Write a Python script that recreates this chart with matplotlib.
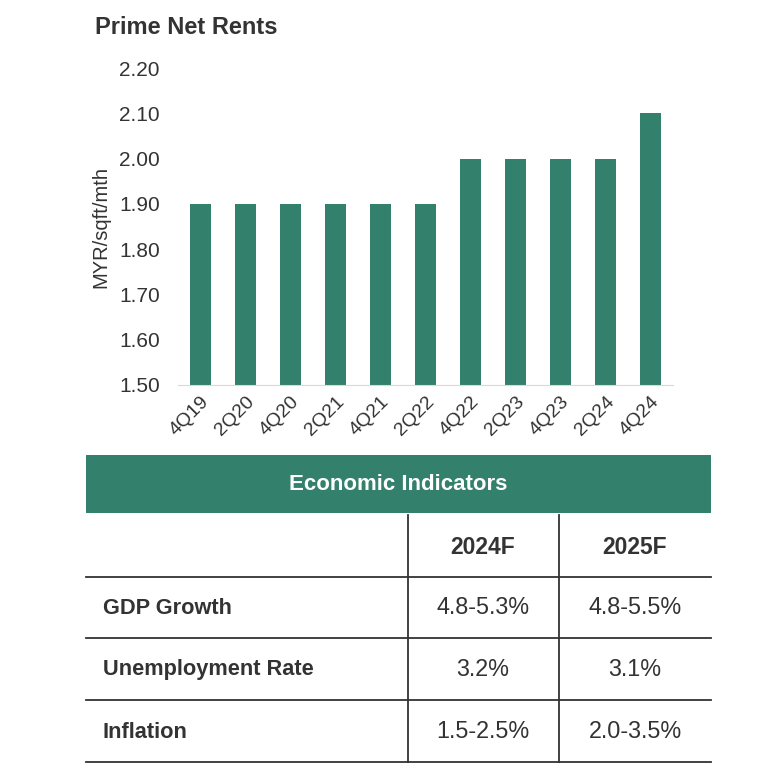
import matplotlib
matplotlib.use("Agg")
import matplotlib.pyplot as plt
from matplotlib.patches import Rectangle

plt.rcParams['font.family'] = ['Liberation Sans', 'DejaVu Sans']

# chart data
quarters = ["4Q19", "2Q20", "4Q20", "2Q21", "4Q21", "2Q22",
            "4Q22", "2Q23", "4Q23", "2Q24", "4Q24"]
rents = [1.90, 1.90, 1.90, 1.90, 1.90, 1.90, 2.00, 2.00, 2.00, 2.00, 2.10]

# table data
table_title = "Economic Indicators"
table_cols = ["2024F", "2025F"]
indicators = ["GDP Growth", "Unemployment Rate", "Inflation"]
vals_2024 = ["4.8-5.3%", "3.2%", "1.5-2.5%"]
vals_2025 = ["4.8-5.5%", "3.1%", "2.0-3.5%"]

green = "#33806C"
txt = "#333333"
W, H = 760, 770

fig = plt.figure(figsize=(W / 100, H / 100), dpi=100)

# --- bar chart ---
ax = fig.add_axes([178 / W, 1 - 385 / H, (673 - 178) / W, (385 - 68) / H])
x = range(len(quarters))
ax.bar(x, rents, width=0.45, color=green, zorder=2)
ax.set_ylim(1.5, 2.2)
ax.set_xlim(-0.5, len(quarters) - 0.5)
ax.set_yticks([1.5, 1.6, 1.7, 1.8, 1.9, 2.0, 2.1, 2.2])
ax.set_yticklabels(["%.2f" % v for v in ax.get_yticks()], fontsize=15, color=txt)
ax.set_xticks(list(x))
ax.set_xticklabels(quarters, rotation=45, ha="right", rotation_mode="anchor",
                   fontsize=14, color=txt)
ax.tick_params(axis="both", length=0)
ax.tick_params(axis="y", pad=13)
ax.tick_params(axis="x", pad=6)
for s in ["top", "right", "left"]:
    ax.spines[s].set_visible(False)
ax.spines["bottom"].set_color("#d9d9d9")
ax.set_ylabel("MYR/sqft/mth", fontsize=14.5, color=txt)
ax.yaxis.set_label_coords(-0.137, 0.5)

fig.text(95 / W, 1 - 28 / H, "Prime Net Rents", fontsize=17, fontweight="bold",
         color=txt, ha="left", va="center")

# --- table (drawn in pixel coords on an overlay axes) ---
tb = fig.add_axes([0, 0, 1, 1])
tb.set_xlim(0, W)
tb.set_ylim(H, 0)
tb.axis("off")

left, right = 86, 711
tb.add_patch(Rectangle((left, 455), right - left, 58, color=green, lw=0))
tb.text((left + right) / 2, 484, table_title, color="white", fontsize=16,
        fontweight="bold", ha="center", va="center")

col_x = [408, 559]
row_lines = [577, 638, 700, 762]
for cx in col_x:
    tb.plot([cx, cx], [515, 762], color="#333333", lw=1.3)
for ry in row_lines:
    tb.plot([left, right], [ry, ry], color="#333333", lw=1.3)

col_centers = [483, 635]
for cx, name in zip(col_centers, table_cols):
    tb.text(cx, 547, name, fontsize=16.5, fontweight="bold", color=txt,
            ha="center", va="center")

row_centers = [608, 670, 732]
for ry, name, v1, v2 in zip(row_centers, indicators, vals_2024, vals_2025):
    tb.text(103, ry, name, fontsize=15.7, fontweight="bold", color=txt,
            ha="left", va="center")
    tb.text(col_centers[0], ry, v1, fontsize=16.8, color=txt, ha="center", va="center")
    tb.text(col_centers[1], ry, v2, fontsize=16.8, color=txt, ha="center", va="center")

fig.savefig("out.png", dpi=100)
